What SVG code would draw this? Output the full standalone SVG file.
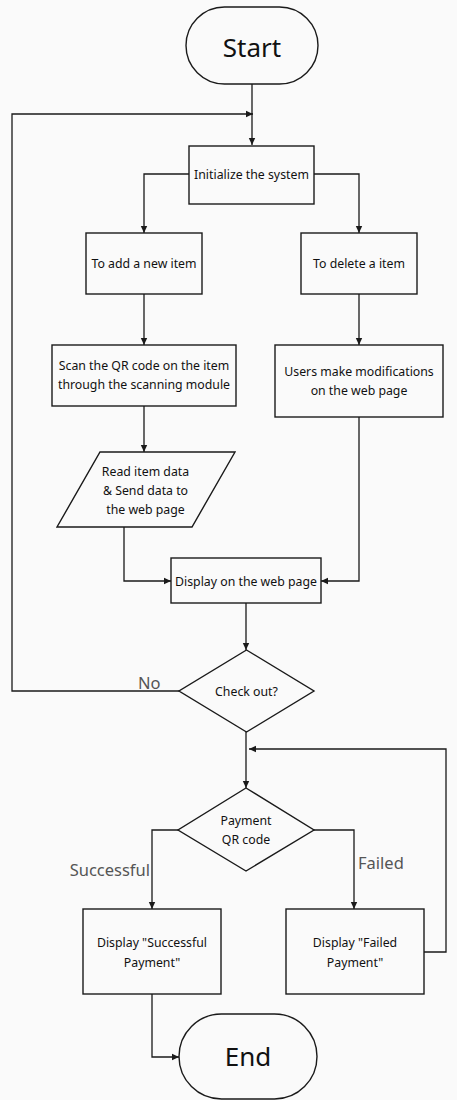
<svg xmlns="http://www.w3.org/2000/svg" width="457" height="1100" viewBox="0 0 457 1100">
<defs>
<marker id="arr" markerWidth="8" markerHeight="8" refX="7" refY="4" orient="auto" markerUnits="userSpaceOnUse">
<path d="M0,0.8 L7,4 L0,7.2 Z" fill="#1a1a1a"/>
</marker>
<style>
.shape{fill:none;stroke:#1a1a1a;stroke-width:1.4}
.conn{fill:none;stroke:#1a1a1a;stroke-width:1.3;marker-end:url(#arr)}
.t{font-family:"Noto Sans","Open Sans",sans-serif;font-size:12.3px;fill:#111;text-anchor:middle;dominant-baseline:central}
.big{font-family:"Noto Sans","Open Sans",sans-serif;font-size:26px;fill:#111;text-anchor:middle;dominant-baseline:central}
.lbl{font-family:"Noto Sans","Open Sans",sans-serif;font-size:16.5px;fill:#555;dominant-baseline:central}
</style>
</defs>
<rect x="0" y="0" width="457" height="1100" fill="#fafafa"/>
<g id="connectors">
<path class="conn" d="M252,84 V145"/>
<path class="conn" d="M189,174 H144 V233"/>
<path class="conn" d="M314,174 H359 V233"/>
<path class="conn" d="M144,294 V345"/>
<path class="conn" d="M359,294 V345"/>
<path class="conn" d="M144,406 V452"/>
<path class="conn" d="M124,527 V581 H171"/>
<path class="conn" d="M359,417 V581 H321"/>
<path class="conn" d="M246,603 V650"/>
<path class="conn" d="M179,691 H12 V114 H253"/>
<path class="conn" d="M246,732 V788"/>
<path class="conn" d="M178,830 H152 V909"/>
<path class="conn" d="M314,830 H354 V909"/>
<path class="conn" d="M424,952 H446 V749 H249"/>
<path class="conn" d="M152,994 V1057 H179"/>
<text class="lbl" x="138" y="682">No</text>
<text class="lbl" x="150" y="869" text-anchor="end">Successful</text>
<text class="lbl" x="358" y="862">Failed</text>
</g>
<g id="start">
<rect class="shape" x="186" y="7" width="132" height="77" rx="38.5"/>
<text class="big" x="252" y="47">Start</text>
</g>
<g id="init">
<rect class="shape" x="189" y="146" width="125" height="58"/>
<text class="t" x="251.5" y="174">Initialize the system</text>
</g>
<g id="add">
<rect class="shape" x="86" y="233" width="116" height="61"/>
<text class="t" x="144" y="263">To add a new item</text>
</g>
<g id="delete">
<rect class="shape" x="301" y="233" width="116" height="61"/>
<text class="t" x="359" y="263">To delete a item</text>
</g>
<g id="scan">
<rect class="shape" x="52" y="345" width="184" height="61"/>
<text class="t" x="144" y="365">Scan the QR code on the item</text>
<text class="t" x="144" y="384.5">through the scanning module</text>
</g>
<g id="users">
<rect class="shape" x="275" y="345" width="168" height="72"/>
<text class="t" x="359" y="371.5">Users make modifications</text>
<text class="t" x="359" y="390.5">on the web page</text>
</g>
<g id="readdata">
<polygon class="shape" points="100,452 235,452 192,527 57,527"/>
<text class="t" x="145.5" y="471">Read item data</text>
<text class="t" x="145.5" y="490.5">&amp; Send data to</text>
<text class="t" x="145.5" y="509.5">the web page</text>
</g>
<g id="display">
<rect class="shape" x="171" y="558" width="150" height="45"/>
<text class="t" x="246" y="581">Display on the web page</text>
</g>
<g id="checkout">
<polygon class="shape" points="246.5,650 314,691 246.5,732 179,691"/>
<text class="t" x="246.5" y="691">Check out?</text>
</g>
<g id="payment">
<polygon class="shape" points="246,788 314,830 246,871 178,830"/>
<text class="t" x="246" y="820.5">Payment</text>
<text class="t" x="246" y="839.5">QR code</text>
</g>
<g id="success">
<rect class="shape" x="83" y="909" width="138" height="85"/>
<text class="t" x="152" y="942.5">Display "Successful</text>
<text class="t" x="152" y="962">Payment"</text>
</g>
<g id="failed">
<rect class="shape" x="286" y="909" width="138" height="85"/>
<text class="t" x="355" y="942.5">Display "Failed</text>
<text class="t" x="355" y="962">Payment"</text>
</g>
<g id="end">
<rect class="shape" x="179" y="1014" width="138" height="85" rx="42.5"/>
<text class="big" x="248" y="1056">End</text>
</g>
</svg>
